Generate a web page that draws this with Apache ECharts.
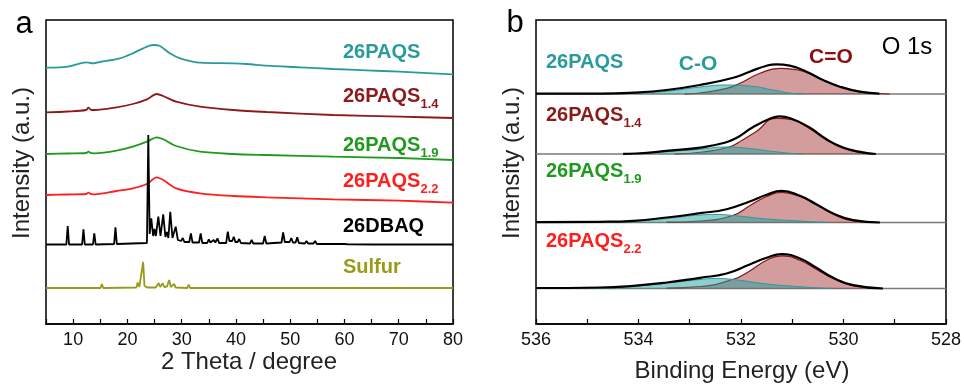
<!DOCTYPE html>
<html>
<head>
<meta charset="utf-8">
<script src="https://cdn.jsdelivr.net/npm/echarts@6/dist/echarts.min.js"></script>
<style>html,body{margin:0;padding:0;background:#fff}#c{width:964px;height:385px}</style>
</head>
<body>
<div id="c"></div>
<script>
// ---------- Panel a: XRD (2 Theta, offset intensity) ----------
const xrd26PAQS = [[5,256.3],[9,257.3],[12.5,261.7],[13.7,260.7],[15,262],[18.6,265.7],[21,270.7],[22.9,275.7],[24.7,279],[26,278],[27.8,270.7],[29.7,265.7],[33.4,261.3],[39.5,260.7],[42,260],[45.7,258.3],[51.8,256.7],[57.9,255],[64,253.7],[70.2,252.3],[80,249.7]];
const xrd26PAQS14 = [[5,211.7],[9,212.5],[12.4,214],[12.8,216.3],[13.4,214],[14,214],[18,216.7],[21,220],[23.6,224.7],[25.4,230],[26.6,228],[29,222.3],[33.4,217.3],[39.5,214],[45.7,212],[57.9,209],[70.2,207.3],[80,206]];
const xrd26PAQS19 = [[5,170],[9,170.5],[12.4,171],[12.8,172.3],[13.4,170.8],[14,170.7],[18,173.3],[21,177.3],[23.6,182.3],[25.4,186.7],[26.6,184.7],[29,178],[33.4,172.3],[39.5,170],[45.7,169],[57.9,167.3],[70.2,166],[80,164]];
const xrd26PAQS22 = [[5,129],[9,129.5],[12.4,130],[12.8,131.3],[13.4,129.8],[14,129.7],[18,133],[21,135.7],[23.6,140],[25.4,146.7],[26.6,144],[29,135.7],[33.4,130.7],[39.5,128],[45.7,126.7],[57.9,124.7],[70.2,123.3],[80,121.3]];
const xrd26DBAQ = [[5,79.5],
  [8.75,79.5],[9.0,98],[9.25,79.5],[11.65,79.5],[11.9,94.7],[12.15,79.5],[13.65,79.5],[13.9,90.7],[14.15,79.5],[17.55,80],[17.8,96.7],[18.05,80],
  [23.6,81],[23.85,189],[24.1,90],[24.4,105.7],[24.75,88],[25.0,95],[25.25,88],[25.7,107.3],[26.1,88],[26.6,109.7],[27.0,87],[27.3,92],[27.55,86],[27.9,112.3],[28.3,86],[28.9,97.3],[29.3,84],
  [29.9,83],[30.2,86],[30.5,82],[31.4,82],[31.7,90.7],[32.0,81.5],[33.2,81.5],[33.5,90.7],[33.8,81],
  [34.7,81],[35.0,84.7],[35.3,81.5],[35.6,81.5],[35.9,84],[36.2,81.5],[36.4,82],[36.6,85.7],[36.9,81],
  [38.2,81],[38.5,92.3],[38.8,83],[39.3,83],[39.6,87.3],[39.9,82],[40.3,82],[40.6,85],[40.9,81],
  [42.6,80.5],[42.9,84],[43.2,80.5],[45.0,80.5],[45.3,88],[45.6,80.5],
  [48.4,81.5],[48.7,91.7],[49.0,82],[49.9,82],[50.2,86],[50.5,81.5],[51.0,81.5],[51.3,86.7],[51.6,81],
  [52.7,80.5],[53.0,83],[53.3,80.5],[54.3,80.5],[54.6,83],[54.9,80],[56.7,80],[57.0,82],[57.3,80],
  [60.1,80],[60.4,82],[60.7,79.7],[65.6,79.5],[65.9,80.5],[66.2,79.5],[74.5,79.5],[74.8,81],[75.1,79.5],
  [76.0,79.5],[76.3,81],[76.6,79.5],[80,79.5]];
const xrdSulfur = [[5,36],[11.25,36],[11.45,37.5],[11.65,36],[15.05,36],[15.3,40],[15.55,36],[21.65,36.5],[21.9,41.5],[22.2,37],[22.55,37.5],[22.9,62],[23.15,38],[23.4,40],[23.65,36.5],
  [24.8,36.5],[25.0,38.5],[25.25,36.5],[25.5,36.5],[25.75,41],[26.05,37],[26.25,37],[26.5,40.7],[26.8,37],[27.1,37],[27.3,37.5],[27.45,37],[27.7,44],[28.0,37],[28.35,37],[28.6,40],[28.9,36.5],
  [31.05,36],[31.3,39.3],[31.55,36],[33.7,36],[33.9,37.5],[34.1,36],[35.5,36],[35.7,37.3],[35.9,36],[36.7,36],[36.9,37.3],[37.1,36],[38.3,36],[38.5,37],[38.7,36],
  [42.5,36],[42.7,37.7],[42.9,36],[47.3,36],[47.5,37],[47.7,36],[51.0,36],[51.2,37.7],[51.4,36],[52.3,36],[52.5,37.3],[52.7,36],[53.3,36],[53.5,37.3],[53.7,36],[56.8,36],[57,37],[57.2,36],[80,36]];

// ---------- Panel b: O 1s XPS (binding energy, height above each baseline) ----------
const xpsBaselines = [230, 170, 101.5, 35.5];
const xpsFlat = [[536,0],[528,0]];
const xpsEnvelope = [
  [[536,0.3],[534.75,0.3],[534.1,1.3],[533.45,4],[532.8,9],[532.15,16.3],[531.83,22.3],[531.5,28.3],[531.31,29.7],[531.05,28.3],[530.72,22.3],[530.4,14],[530.07,7.3],[529.68,2.3],[529.3,0.3]],
  [[534.3,0.2],[534.05,0.5],[533.4,3.3],[532.75,6.7],[532.36,10.7],[532.1,15.7],[531.77,26.7],[531.45,35],[531.25,37.7],[531.0,35],[530.67,26.7],[530.34,15],[530.02,6.7],[529.7,2.3],[529.37,0]],
  [[536,0.3],[534.75,0.7],[534.1,1.7],[533.45,5],[532.8,9.3],[532.28,13.3],[531.83,21],[531.5,27.7],[531.21,31.7],[530.85,26.7],[530.53,18.3],[530.2,9],[529.81,2.3],[529.29,0]],
  [[536,0.5],[534.75,1],[534.1,2.7],[533.45,6],[532.8,10.7],[532.28,15],[531.83,24],[531.5,30.7],[531.21,34.3],[530.85,30],[530.53,20.7],[530.2,10.7],[529.81,3.3],[529.23,0]]
];
const xpsCdoubleO = [
  [[533.1,0],[532.8,1],[532.28,5.7],[532.02,10.7],[531.63,20.7],[531.24,25.7],[530.9,24],[530.72,21.5],[530.4,14],[530.07,7],[529.7,2.3],[529.35,0.5],[529.1,0]],
  [[533.3,0],[532.75,2],[532.23,7],[531.97,14],[531.7,22.5],[531.32,35.7],[531.0,34.3],[530.67,25.7],[530.34,14.3],[530.02,6],[529.7,1.7],[529.37,0]],
  [[533.45,0.3],[532.8,1.5],[532.15,7.3],[531.83,16.7],[531.5,26],[531.21,30],[530.85,26],[530.53,17.7],[530.2,8.3],[529.81,1.7],[529.29,0]],
  [[533.45,0.5],[532.8,2],[532.15,9.3],[531.83,17.5],[531.5,28.3],[531.21,32.7],[530.85,28.3],[530.53,19.3],[530.2,10],[529.81,2.7],[529.23,0]]
];
const xpsCsingleO = [
  [[534.75,0],[534.1,0.7],[533.45,2.7],[532.8,7],[532.28,9],[531.83,8],[531.37,4],[530.98,0.5],[530.8,0]],
  [[534.05,0],[533.4,2.5],[532.75,5],[532.3,7],[531.84,5.5],[531.45,3],[531.0,0.5],[530.8,0]],
  [[536,0.2],[534.75,0.3],[534.1,1.5],[533.45,4],[532.8,7.5],[532.48,8],[532.15,7],[531.5,3.5],[530.85,1.5],[530.53,0.5],[530.3,0]],
  [[536,0.3],[534.75,0.7],[534.1,2.2],[533.45,5.3],[532.8,9],[532.48,10],[532.15,9],[531.5,4.5],[530.85,1.8],[530.53,0.7],[530.2,0]]
];

const FONT = 'Arial, "Liberation Sans", sans-serif';
const cTeal = '#2a9b9b', cWine = '#8c1a1a', cGreen = '#1f9a1f', cRed = '#ff1e1e', cOlive = '#999a18';

function shift(arr, b) { return arr.map(p => [p[0], p[1] + b]); }

const series = [];
function xrdLine(data, color, smooth) {
  series.push({ type: 'line', xAxisIndex: 0, yAxisIndex: 0, data: data, showSymbol: false, smooth: smooth,
    lineStyle: { color: color, width: 1.8 }, silent: true, animation: false });
}
xrdLine(xrd26PAQS, cTeal, 0.3);
xrdLine(xrd26PAQS14, cWine, 0.3);
xrdLine(xrd26PAQS19, cGreen, 0.3);
xrdLine(xrd26PAQS22, cRed, 0.3);
xrdLine(xrdSulfur, cOlive, false);
xrdLine(xrd26DBAQ, '#000', false);

for (let i = 0; i < 4; i++) {
  const b = xpsBaselines[i];
  series.push({ type: 'line', xAxisIndex: 1, yAxisIndex: 1, data: shift(xpsFlat, b), showSymbol: false,
    lineStyle: { color: '#7a7a7a', width: 1.6 }, animation: false, z: 1 });
  series.push({ type: 'line', xAxisIndex: 1, yAxisIndex: 1, data: shift(xpsCdoubleO[i], b), showSymbol: false, smooth: 0.5,
    lineStyle: { color: '#8a1212', width: 1.2 }, areaStyle: { origin: b, color: 'rgba(160,44,44,0.66)' }, animation: false, z: 2 });
  series.push({ type: 'line', xAxisIndex: 1, yAxisIndex: 1, data: shift(xpsCsingleO[i], b), showSymbol: false, smooth: 0.5,
    lineStyle: { color: '#2a9a9a', width: 1 }, areaStyle: { origin: b, color: 'rgba(40,160,160,0.74)' }, animation: false, z: 3 });
  series.push({ type: 'line', xAxisIndex: 1, yAxisIndex: 1, data: shift(xpsEnvelope[i], b), showSymbol: false, smooth: 0.5,
    lineStyle: { color: '#000', width: 2.2 }, animation: false, z: 4 });
}

function label(x, y, main, sub, color, size) {
  const s = size || 20;
  if (!sub) {
    return { type: 'text', x: x, y: y, z: 100, style: { text: main, fill: color, font: 'bold ' + s + 'px ' + FONT, align: 'left', verticalAlign: 'middle' } };
  }
  return { type: 'text', x: x, y: y, z: 100, style: {
    text: '{m|' + main + '}{s|' + sub + '}', fill: color, align: 'left', verticalAlign: 'middle',
    rich: {
      m: { fontSize: s, fontWeight: 'bold', fontFamily: FONT, fill: color, lineHeight: 21, padding: [0, 0, 7, 0] },
      s: { fontSize: 13, fontWeight: 'bold', fontFamily: FONT, fill: color, lineHeight: 14, verticalAlign: 'bottom' }
    } } };
}

const graphics = [
  { type: 'text', x: 24, y: 40, style: { text: 'a', font: '31px ' + FONT, fill: '#000', align: 'center', verticalAlign: 'bottom' } },
  { type: 'text', x: 515, y: 39, style: { text: 'b', font: '31px ' + FONT, fill: '#000', align: 'center', verticalAlign: 'bottom' } },
  { type: 'text', x: 22, y: 163, rotation: Math.PI / 2, style: { text: 'Intensity (a.u.)', font: '24px ' + FONT, fill: '#222', align: 'center', verticalAlign: 'middle' } },
  { type: 'text', x: 512, y: 163, rotation: Math.PI / 2, style: { text: 'Intensity (a.u.)', font: '24px ' + FONT, fill: '#222', align: 'center', verticalAlign: 'middle' } },
  { type: 'text', x: 249, y: 362, style: { text: '2 Theta / degree', font: '24px ' + FONT, fill: '#222', align: 'center', verticalAlign: 'middle' } },
  { type: 'text', x: 742, y: 371, style: { text: 'Binding Energy (eV)', font: '24px ' + FONT, fill: '#222', align: 'center', verticalAlign: 'middle' } },
  label(343, 52, '26PAQS', null, cTeal),
  label(343, 100, '26PAQS', '1.4', cWine),
  label(343, 149, '26PAQS', '1.9', cGreen),
  label(343, 185, '26PAQS', '2.2', cRed),
  label(343, 226, '26DBAQ', null, '#000'),
  label(343, 267, 'Sulfur', null, cOlive),
  label(546, 62, '26PAQS', null, cTeal),
  label(546, 119, '26PAQS', '1.4', cWine),
  label(546, 175, '26PAQS', '1.9', cGreen),
  label(546, 245, '26PAQS', '2.2', cRed),
  { type: 'text', x: 698, y: 64, z: 100, style: { text: 'C-O', font: 'bold 21px ' + FONT, fill: cTeal, align: 'center', verticalAlign: 'middle' } },
  { type: 'text', x: 831, y: 57, z: 100, style: { text: 'C=O', font: 'bold 21px ' + FONT, fill: '#8a1010', align: 'center', verticalAlign: 'middle' } },
  { type: 'text', x: 907, y: 47, z: 100, style: { text: 'O 1s', font: '24px ' + FONT, fill: '#000', align: 'center', verticalAlign: 'middle' } }
];

const axisCommon = {
  axisLine: { show: true, lineStyle: { color: '#000', width: 1.5 } },
  axisTick: { show: true, inside: true, length: 5, lineStyle: { color: '#000', width: 1.2 } },
  splitLine: { show: false },
  axisLabel: { fontSize: 18, color: '#111', fontFamily: FONT, margin: 7 }
};

const option = {
  backgroundColor: '#fff',
  animation: false,
  grid: [
    { left: 46, right: 511, top: 20, bottom: 61, show: true, borderColor: '#000', borderWidth: 1.5 },
    { left: 536, right: 18, top: 20, bottom: 61, show: true, borderColor: '#000', borderWidth: 1.5 }
  ],
  xAxis: [
    Object.assign({}, axisCommon, { type: 'value', gridIndex: 0, min: 5, max: 80, interval: 5,
      axisLabel: Object.assign({}, axisCommon.axisLabel, { formatter: v => (v % 10 === 0 ? String(v) : '') }) }),
    Object.assign({}, axisCommon, { type: 'value', gridIndex: 1, min: 528, max: 536, interval: 2, inverse: true,
      minorTick: { show: true, splitNumber: 2, length: 5, lineStyle: { color: '#000', width: 1.2 } } })
  ],
  yAxis: [
    { type: 'value', gridIndex: 0, min: 0, max: 304, show: false },
    { type: 'value', gridIndex: 1, min: 0, max: 304, show: false }
  ],
  series: series,
  graphic: graphics
};

const chart = echarts.init(document.getElementById('c'), null, { renderer: 'canvas' });
chart.setOption(option);
</script>
</body>
</html>
